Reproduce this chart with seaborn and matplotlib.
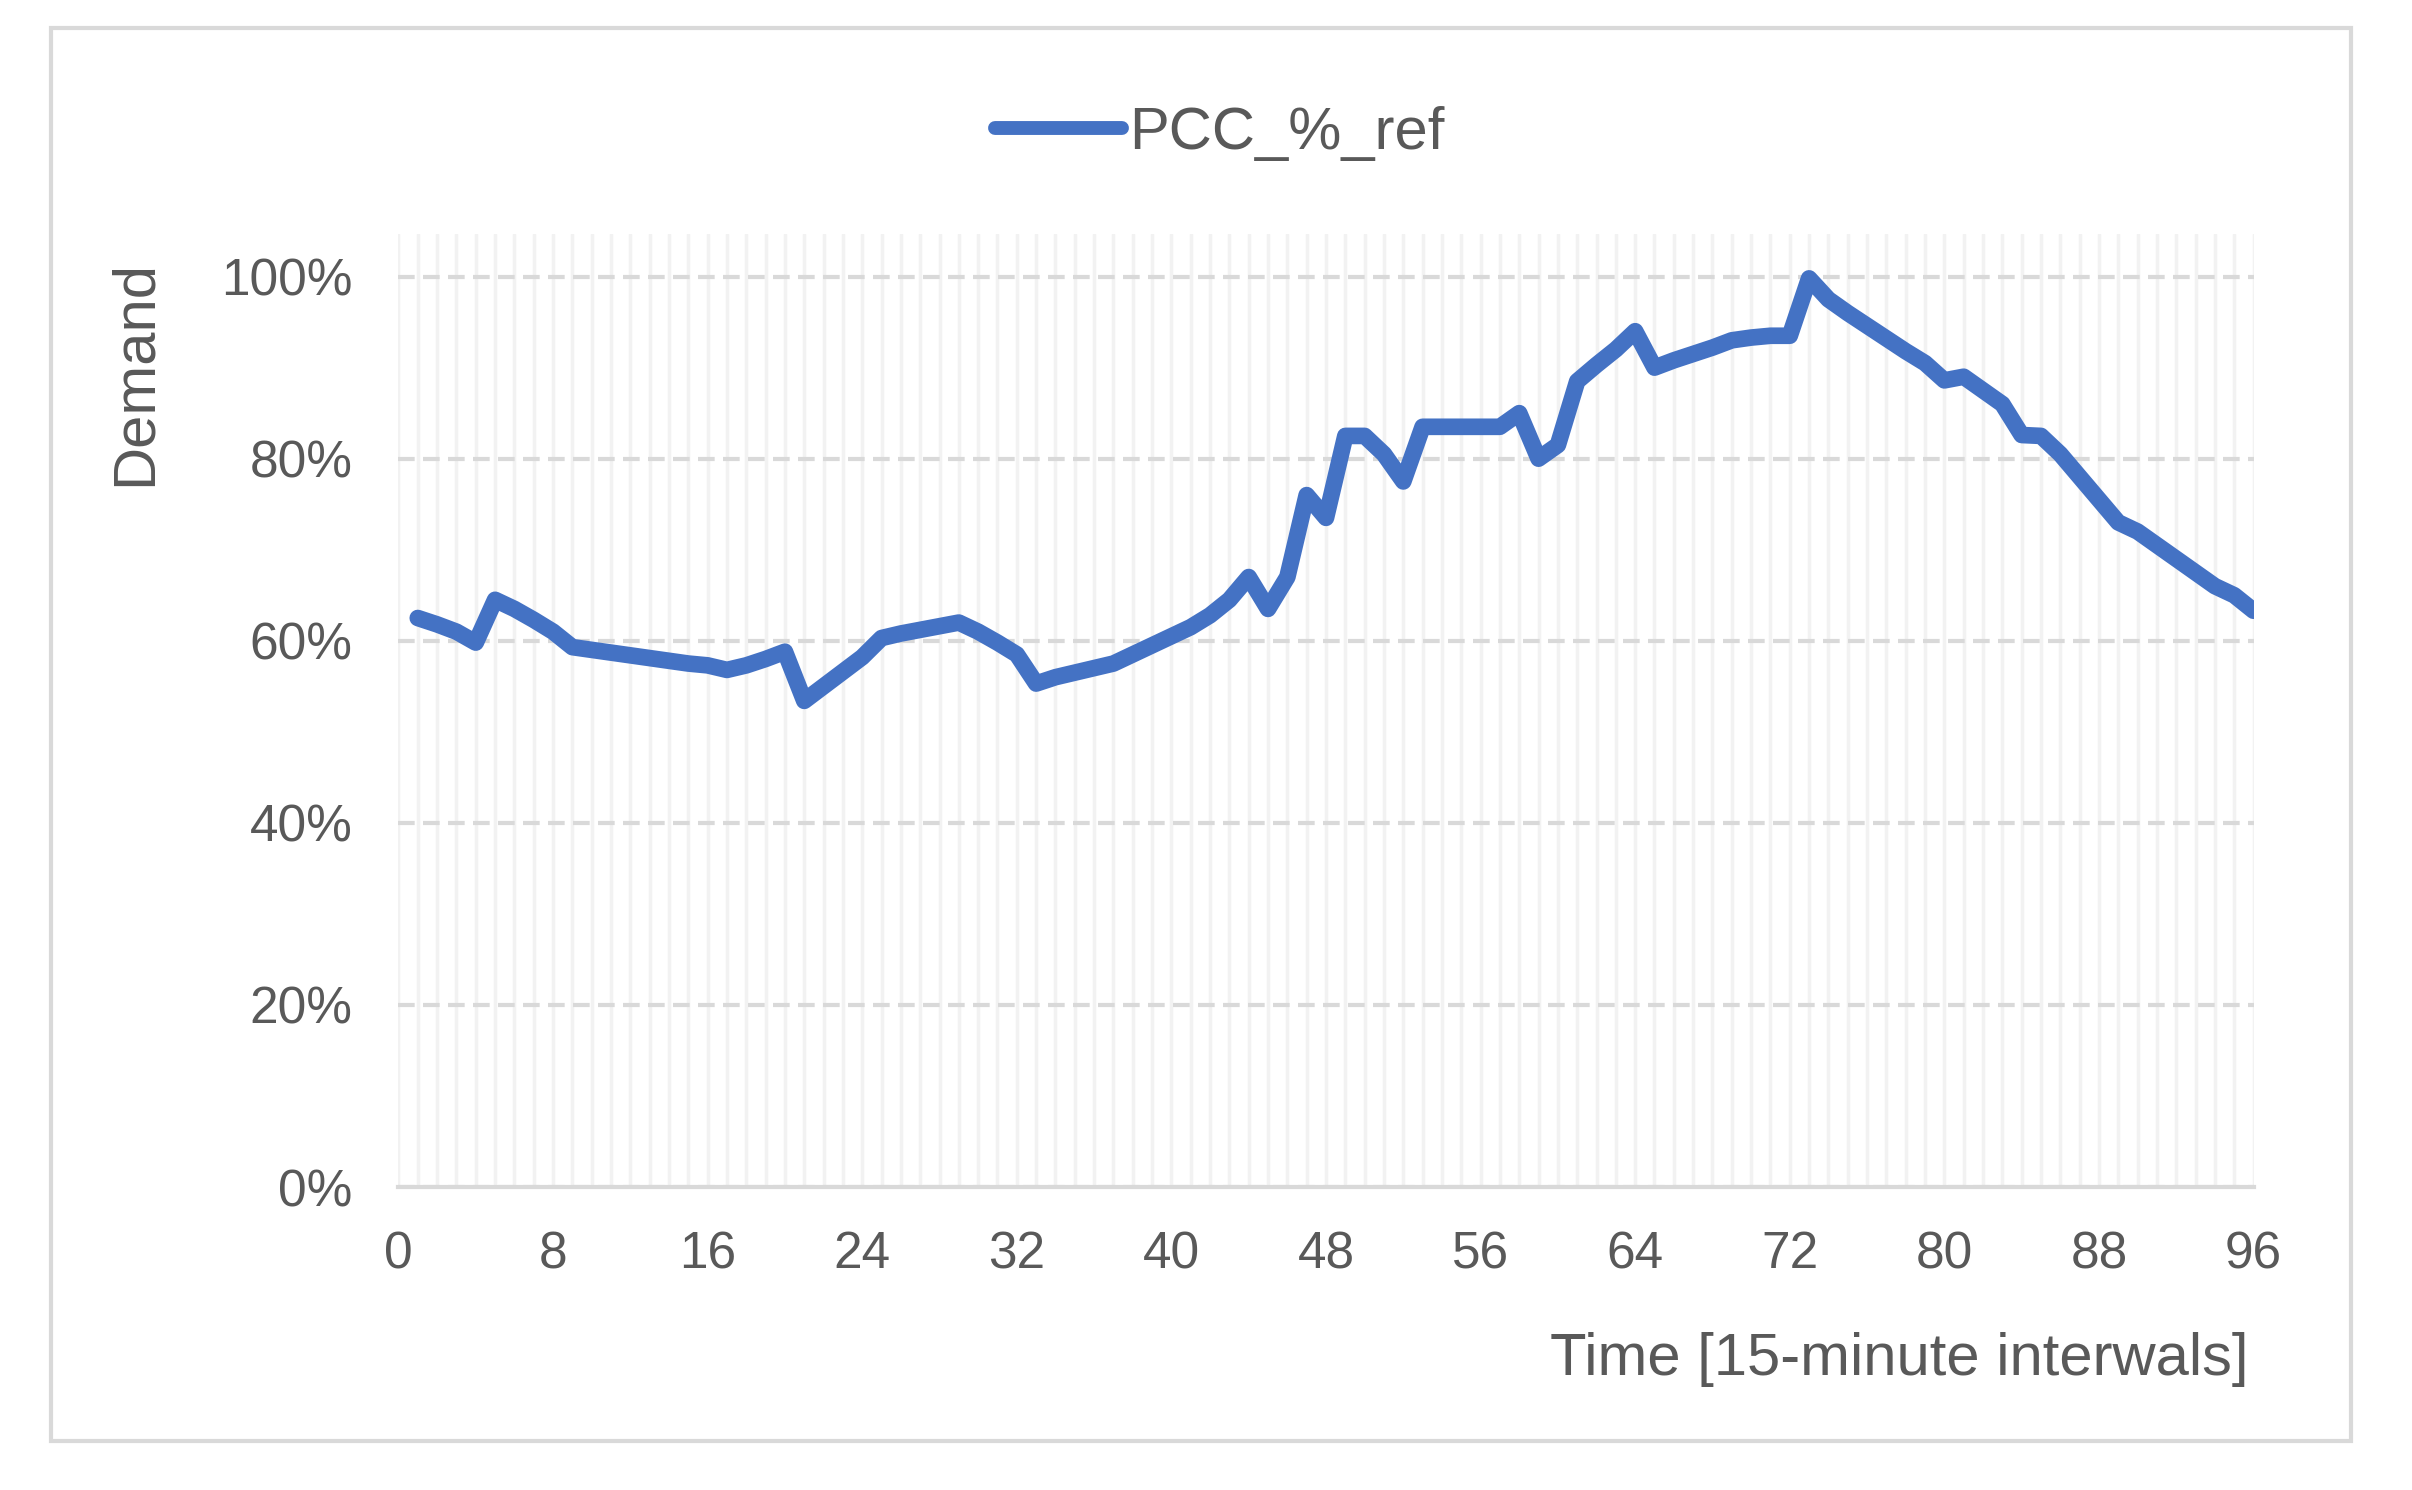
import numpy as np
import pandas as pd
import matplotlib.pyplot as plt
import seaborn as sns
from matplotlib.patches import Rectangle
from matplotlib.ticker import MultipleLocator, PercentFormatter

# -------------------------------------------------------
# Data
# -------------------------------------------------------
intervals = list(range(1, 97))
pcc_ref = [
    62.5, 61.8, 61.0, 59.8, 64.5, 63.5, 62.3, 61.0, 59.3, 59.0,
    58.7, 58.4, 58.1, 57.8, 57.5, 57.3, 56.8, 57.3, 58.0, 58.8,
    53.4, 55.0, 56.6, 58.2, 60.3, 60.8, 61.2, 61.6, 62.0, 61.0,
    59.8, 58.5, 55.3, 56.0, 56.5, 57.0, 57.5, 58.5, 59.5, 60.5,
    61.5, 62.8, 64.5, 67.0, 63.5, 67.0, 76.0, 73.5, 82.5, 82.5,
    80.5, 77.5, 83.5, 83.5, 83.5, 83.5, 83.5, 85.0, 80.0, 81.5,
    88.5, 90.3, 92.0, 94.0, 90.0, 90.8, 91.5, 92.2, 93.0, 93.3,
    93.5, 93.5, 99.8, 97.5, 96.0, 94.6, 93.2, 91.8, 90.5, 88.6,
    89.0, 87.5, 86.0, 82.6, 82.5, 80.5, 78.0, 75.5, 73.0, 72.0,
    70.5, 69.0, 67.5, 66.0, 65.0, 63.3,
]
x_ticks = list(range(0, 97, 8))
y_ticks = [0, 0.2, 0.4, 0.6, 0.8, 1.0]

df = pd.DataFrame({'interval': intervals, 'PCC_%_ref': np.array(pcc_ref) / 100})

# -------------------------------------------------------
# Plot
# -------------------------------------------------------
sns.set_style("white")
plt.rcParams['font.family'] = ['Liberation Sans', 'DejaVu Sans']

text_col = '#595959'
line_col = '#4472C4'

fig = plt.figure(figsize=(24.12, 14.9), dpi=100)
ax = fig.add_axes([0.1652, 0.2033, 0.9343 - 0.1652, 0.8431 - 0.2033])

sns.lineplot(x='interval', y='PCC_%_ref', data=df, ax=ax, color=line_col,
             linewidth=12, label='PCC_%_ref', solid_capstyle='round',
             solid_joinstyle='round', zorder=5)

ax.set_xlim(0, 96)
ax.set_ylim(0, 1.047)
ax.set_xticks(x_ticks)
ax.xaxis.set_minor_locator(MultipleLocator(1))
ax.set_yticks(y_ticks)
ax.yaxis.set_major_formatter(PercentFormatter(1.0, decimals=0))

ax.grid(which='minor', axis='x', color='#F2F2F2', linewidth=2.5, linestyle='-')
ax.grid(which='major', axis='x', color='#F2F2F2', linewidth=2.5, linestyle='-')
ax.grid(which='major', axis='y', color='#D9D9D9', linewidth=3, linestyle=(0, (4, 2)))
ax.set_axisbelow(True)

for s in ['top', 'right', 'left']:
    ax.spines[s].set_visible(False)
ax.spines['bottom'].set_color('#D9D9D9')
ax.spines['bottom'].set_linewidth(3)

ax.tick_params(axis='both', which='both', length=0, labelsize=37, colors=text_col)
ax.tick_params(axis='x', pad=31)
ax.tick_params(axis='y', pad=33)
ax.set_xlabel('')
ax.set_ylabel('')

fig.text(0.0561, 0.7497, 'Demand', rotation=90, ha='center', va='center',
         fontsize=43, color=text_col)
fig.text(0.9324, 0.0877, 'Time [15-minute interwals]', ha='right', va='center',
         fontsize=43, color=text_col)

leg = ax.legend(loc='center', bbox_to_anchor=(0.5057, 0.9107), bbox_transform=fig.transFigure,
                frameon=False, fontsize=43, handlelength=2.13, handletextpad=0.12)
for t in leg.get_texts():
    t.set_color(text_col)
for h in leg.get_lines():
    h.set_linewidth(10)

# outer chart border
fig.patches.append(Rectangle((0.0212, 0.033), 0.9535, 0.948, transform=fig.transFigure,
                             fill=False, edgecolor='#D9D9D9', linewidth=3))

plt.savefig('out.png', dpi=100)
plt.close()
